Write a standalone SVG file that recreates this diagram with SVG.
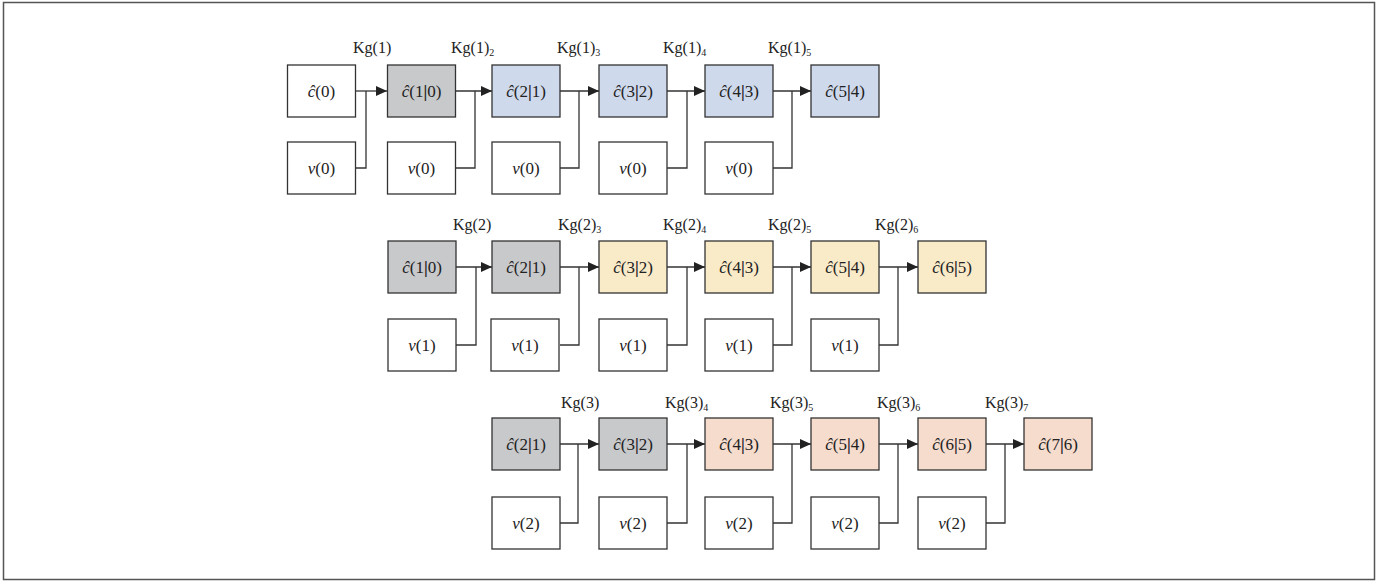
<svg xmlns="http://www.w3.org/2000/svg" width="1386" height="582" viewBox="0 0 1386 582">
<style>
.b{stroke:#333;stroke-width:1.3}
.w{fill:#fff}.g{fill:#c8c9cb}.bl{fill:#cfd9ec}.y{fill:#f9eac8}.p{fill:#f6dccd}
text{font-family:"Liberation Serif","Times New Roman",serif;font-size:17px;fill:#222}
.t{text-anchor:middle}
.l{font-size:16px}
.i{font-style:italic}
.s{font-size:10px}
.c{fill:none;stroke:#333;stroke-width:1.3}
</style>
<defs>
<marker id="ah" markerUnits="userSpaceOnUse" markerWidth="11" markerHeight="10" refX="11" refY="5" orient="auto">
<path d="M0,0 L11,5 L0,10 z" fill="#222"/>
</marker>
</defs>
<rect x="3.5" y="2.5" width="1371" height="577" fill="#fff" stroke="#555" stroke-width="1.5"/>

<g id="connectors">
<!-- row 1 -->
<path class="c" d="M355,91 H387" marker-end="url(#ah)"/>
<path class="c" d="M355,168 H366 V91"/>
<path class="c" d="M456,91 H492" marker-end="url(#ah)"/>
<path class="c" d="M456,168 H475 V91"/>
<path class="c" d="M560,91 H599" marker-end="url(#ah)"/>
<path class="c" d="M560,168 H579 V91"/>
<path class="c" d="M667,91 H705" marker-end="url(#ah)"/>
<path class="c" d="M667,168 H687 V91"/>
<path class="c" d="M773,91 H811" marker-end="url(#ah)"/>
<path class="c" d="M773,168 H792 V91"/>
<!-- row 2 -->
<path class="c" d="M456,267 H492" marker-end="url(#ah)"/>
<path class="c" d="M456,345 H476 V267"/>
<path class="c" d="M560,267 H599" marker-end="url(#ah)"/>
<path class="c" d="M560,345 H579 V267"/>
<path class="c" d="M667,267 H705" marker-end="url(#ah)"/>
<path class="c" d="M667,345 H687 V267"/>
<path class="c" d="M773,267 H811" marker-end="url(#ah)"/>
<path class="c" d="M773,345 H792 V267"/>
<path class="c" d="M879,267 H918" marker-end="url(#ah)"/>
<path class="c" d="M879,345 H898 V267"/>
<!-- row 3 -->
<path class="c" d="M560,444 H599" marker-end="url(#ah)"/>
<path class="c" d="M560,523 H578 V444"/>
<path class="c" d="M667,444 H705" marker-end="url(#ah)"/>
<path class="c" d="M667,523 H687 V444"/>
<path class="c" d="M773,444 H811" marker-end="url(#ah)"/>
<path class="c" d="M773,523 H792 V444"/>
<path class="c" d="M879,444 H918" marker-end="url(#ah)"/>
<path class="c" d="M879,523 H898 V444"/>
<path class="c" d="M986,444 H1024" marker-end="url(#ah)"/>
<path class="c" d="M986,523 H1005 V444"/>
</g>

<g id="labels">
<text class="l" x="353" y="53">Kg(1)</text>
<text class="l" x="451" y="53">Kg(1)<tspan class="s" dy="3">2</tspan></text>
<text class="l" x="557" y="53">Kg(1)<tspan class="s" dy="3">3</tspan></text>
<text class="l" x="663" y="53">Kg(1)<tspan class="s" dy="3">4</tspan></text>
<text class="l" x="768" y="53">Kg(1)<tspan class="s" dy="3">5</tspan></text>
<text class="l" x="453" y="230">Kg(2)</text>
<text class="l" x="558" y="230">Kg(2)<tspan class="s" dy="3">3</tspan></text>
<text class="l" x="663" y="230">Kg(2)<tspan class="s" dy="3">4</tspan></text>
<text class="l" x="768" y="230">Kg(2)<tspan class="s" dy="3">5</tspan></text>
<text class="l" x="875" y="230">Kg(2)<tspan class="s" dy="3">6</tspan></text>
<text class="l" x="561" y="408">Kg(3)</text>
<text class="l" x="665" y="408">Kg(3)<tspan class="s" dy="3">4</tspan></text>
<text class="l" x="770" y="408">Kg(3)<tspan class="s" dy="3">5</tspan></text>
<text class="l" x="877" y="408">Kg(3)<tspan class="s" dy="3">6</tspan></text>
<text class="l" x="985" y="408">Kg(3)<tspan class="s" dy="3">7</tspan></text>
</g>

<!-- row 1 nodes -->
<g id="r1c0"><rect class="b w" x="287.5" y="65" width="68" height="52"/><text class="t" x="321.5" y="97"><tspan class="i">ĉ</tspan>(0)</text></g>
<g id="r1c1"><rect class="b g" x="387.5" y="65" width="68" height="52"/><text class="t" x="421.5" y="97"><tspan class="i">ĉ</tspan>(1<tspan font-weight="bold">|</tspan>0)</text></g>
<g id="r1c2"><rect class="b bl" x="492" y="65" width="68" height="52"/><text class="t" x="526" y="97"><tspan class="i">ĉ</tspan>(2<tspan font-weight="bold">|</tspan>1)</text></g>
<g id="r1c3"><rect class="b bl" x="599" y="65" width="68" height="52"/><text class="t" x="633" y="97"><tspan class="i">ĉ</tspan>(3<tspan font-weight="bold">|</tspan>2)</text></g>
<g id="r1c4"><rect class="b bl" x="705" y="65" width="68" height="52"/><text class="t" x="739" y="97"><tspan class="i">ĉ</tspan>(4<tspan font-weight="bold">|</tspan>3)</text></g>
<g id="r1c5"><rect class="b bl" x="811" y="65" width="68" height="52"/><text class="t" x="845" y="97"><tspan class="i">ĉ</tspan>(5<tspan font-weight="bold">|</tspan>4)</text></g>
<g id="r1v0"><rect class="b w" x="287.5" y="142" width="68" height="52"/><text class="t" x="321.5" y="174"><tspan class="i">v</tspan>(0)</text></g>
<g id="r1v1"><rect class="b w" x="387.5" y="142" width="68" height="52"/><text class="t" x="421.5" y="174"><tspan class="i">v</tspan>(0)</text></g>
<g id="r1v2"><rect class="b w" x="492" y="142" width="68" height="52"/><text class="t" x="526" y="174"><tspan class="i">v</tspan>(0)</text></g>
<g id="r1v3"><rect class="b w" x="599" y="142" width="68" height="52"/><text class="t" x="633" y="174"><tspan class="i">v</tspan>(0)</text></g>
<g id="r1v4"><rect class="b w" x="705" y="142" width="68" height="52"/><text class="t" x="739" y="174"><tspan class="i">v</tspan>(0)</text></g>

<!-- row 2 nodes -->
<g id="r2c1"><rect class="b g" x="388" y="241" width="68" height="52"/><text class="t" x="422" y="273"><tspan class="i">ĉ</tspan>(1<tspan font-weight="bold">|</tspan>0)</text></g>
<g id="r2c2"><rect class="b g" x="492" y="241" width="68" height="52"/><text class="t" x="526" y="273"><tspan class="i">ĉ</tspan>(2<tspan font-weight="bold">|</tspan>1)</text></g>
<g id="r2c3"><rect class="b y" x="599" y="241" width="68" height="52"/><text class="t" x="633" y="273"><tspan class="i">ĉ</tspan>(3<tspan font-weight="bold">|</tspan>2)</text></g>
<g id="r2c4"><rect class="b y" x="705" y="241" width="68" height="52"/><text class="t" x="739" y="273"><tspan class="i">ĉ</tspan>(4<tspan font-weight="bold">|</tspan>3)</text></g>
<g id="r2c5"><rect class="b y" x="811" y="241" width="68" height="52"/><text class="t" x="845" y="273"><tspan class="i">ĉ</tspan>(5<tspan font-weight="bold">|</tspan>4)</text></g>
<g id="r2c6"><rect class="b y" x="918" y="241" width="68" height="52"/><text class="t" x="952" y="273"><tspan class="i">ĉ</tspan>(6<tspan font-weight="bold">|</tspan>5)</text></g>
<g id="r2v1"><rect class="b w" x="388" y="319" width="68" height="52"/><text class="t" x="422" y="351"><tspan class="i">v</tspan>(1)</text></g>
<g id="r2v2"><rect class="b w" x="491" y="319" width="68" height="52"/><text class="t" x="525" y="351"><tspan class="i">v</tspan>(1)</text></g>
<g id="r2v3"><rect class="b w" x="599" y="319" width="68" height="52"/><text class="t" x="633" y="351"><tspan class="i">v</tspan>(1)</text></g>
<g id="r2v4"><rect class="b w" x="705" y="319" width="68" height="52"/><text class="t" x="739" y="351"><tspan class="i">v</tspan>(1)</text></g>
<g id="r2v5"><rect class="b w" x="811" y="319" width="68" height="52"/><text class="t" x="845" y="351"><tspan class="i">v</tspan>(1)</text></g>

<!-- row 3 nodes -->
<g id="r3c2"><rect class="b g" x="492" y="418" width="68" height="52"/><text class="t" x="526" y="450"><tspan class="i">ĉ</tspan>(2<tspan font-weight="bold">|</tspan>1)</text></g>
<g id="r3c3"><rect class="b g" x="599" y="418" width="68" height="52"/><text class="t" x="633" y="450"><tspan class="i">ĉ</tspan>(3<tspan font-weight="bold">|</tspan>2)</text></g>
<g id="r3c4"><rect class="b p" x="705" y="418" width="68" height="52"/><text class="t" x="739" y="450"><tspan class="i">ĉ</tspan>(4<tspan font-weight="bold">|</tspan>3)</text></g>
<g id="r3c5"><rect class="b p" x="811" y="418" width="68" height="52"/><text class="t" x="845" y="450"><tspan class="i">ĉ</tspan>(5<tspan font-weight="bold">|</tspan>4)</text></g>
<g id="r3c6"><rect class="b p" x="918" y="418" width="68" height="52"/><text class="t" x="952" y="450"><tspan class="i">ĉ</tspan>(6<tspan font-weight="bold">|</tspan>5)</text></g>
<g id="r3c7"><rect class="b p" x="1024" y="418" width="68" height="52"/><text class="t" x="1058" y="450"><tspan class="i">ĉ</tspan>(7<tspan font-weight="bold">|</tspan>6)</text></g>
<g id="r3v2"><rect class="b w" x="492" y="497" width="68" height="52"/><text class="t" x="526" y="529"><tspan class="i">v</tspan>(2)</text></g>
<g id="r3v3"><rect class="b w" x="599" y="497" width="68" height="52"/><text class="t" x="633" y="529"><tspan class="i">v</tspan>(2)</text></g>
<g id="r3v4"><rect class="b w" x="705" y="497" width="68" height="52"/><text class="t" x="739" y="529"><tspan class="i">v</tspan>(2)</text></g>
<g id="r3v5"><rect class="b w" x="811" y="497" width="68" height="52"/><text class="t" x="845" y="529"><tspan class="i">v</tspan>(2)</text></g>
<g id="r3v6"><rect class="b w" x="918" y="497" width="68" height="52"/><text class="t" x="952" y="529"><tspan class="i">v</tspan>(2)</text></g>
</svg>
